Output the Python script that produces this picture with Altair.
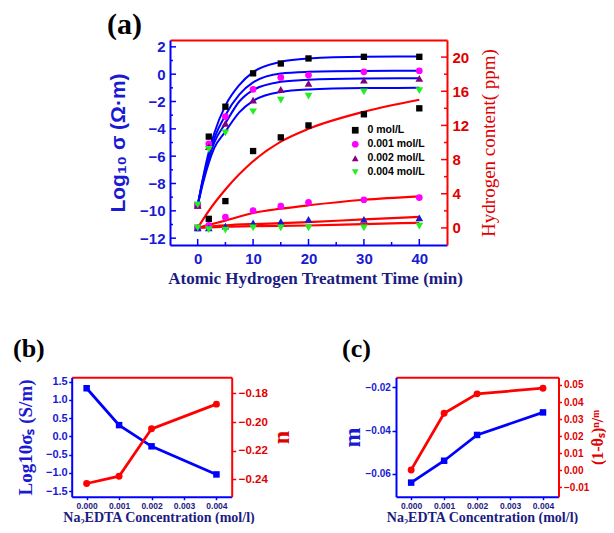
import altair as alt
import pandas as pd

# ---------------- data: panel (a) ----------------
conc_labels = ["0 mol/L", "0.001 mol/L", "0.002 mol/L", "0.004 mol/L"]
t_points = [0, 2, 5, 10, 15, 20, 30, 40]
# log10 sigma (left axis)
cond_0 = [-9.6, -4.57, -2.38, 0.06, 0.78, 1.15, 1.27, 1.27]
cond_1 = [-9.6, -5.1, -3.1, -1.11, -0.24, -0.07, 0.17, 0.25]
cond_2 = [-9.6, -5.3, -3.6, -1.9, -1.11, -0.68, -0.43, -0.31]
cond_4 = [-9.56, -5.5, -4.3, -2.75, -1.9, -1.6, -1.29, -1.2]
# hydrogen content (right axis)
h_0 = [0, 1.06, 3.14, 9.0, 10.6, 12.0, 13.3, 14.0]
h_1 = [0, 0.3, 1.26, 2.04, 2.55, 3.0, 3.3, 3.55]
h_2 = [0, 0.0, 0.2, 0.6, 0.75, 1.0, 1.0, 1.18]
h_4 = [0, -0.2, -0.25, 0.0, 0.0, 0.0, 0.0, 0.2]
# fitted curves
t_fit = [0, 1, 2, 3, 5, 7.5, 10, 15, 20, 30, 40]
fitc_0 = [-9.6, -7.5, -5.7, -4.3, -2.3, -0.8, 0.15, 0.9, 1.15, 1.28, 1.3]
fitc_1 = [-9.6, -7.6, -6.0, -4.7, -3.0, -1.5, -0.6, 0.05, 0.17, 0.24, 0.25]
fitc_2 = [-9.6, -7.7, -6.2, -5.0, -3.6, -2.0, -1.16, -0.56, -0.4, -0.32, -0.3]
fitc_4 = [-9.6, -7.9, -6.5, -5.4, -4.2, -2.8, -1.95, -1.3, -1.12, -1.02, -1.0]
t_hfit = [0, 2, 5, 10, 15, 20, 30, 40]
fith_0 = [0, 2.0, 4.5, 7.8, 10.1, 11.6, 13.6, 15.0]
fith_1 = [0, 0.35, 0.85, 1.75, 2.25, 2.65, 3.3, 3.7]
fith_2 = [0, 0.15, 0.3, 0.45, 0.55, 0.67, 1.0, 1.3]
fith_4 = [0, 0.06, 0.12, 0.2, 0.24, 0.28, 0.45, 0.6]

# ---------------- data: panels (b), (c) ----------------
edta = [0.000, 0.001, 0.002, 0.004]
b_log_sigma = [1.32, 0.31, -0.27, -1.04]
b_n = [-0.2428, -0.2377, -0.2047, -0.1875]
c_m = [-0.064, -0.0539, -0.042, -0.0316]
c_theta = [0.0002, 0.0334, 0.0448, 0.0481]

# tick values
a_x_ticks = [0, 10, 20, 30, 40]
a_x_minor = [5, 15, 25, 35]
a_left_ticks = [-12, -10, -8, -6, -4, -2, 0, 2]
a_left_minor = [-11, -9, -7, -5, -3, -1, 1]
a_right_ticks = [0, 4, 8, 12, 16, 20]
a_right_minor = [2, 6, 10, 14, 18]
conc_ticks = [0.000, 0.001, 0.002, 0.003, 0.004]
b_left_ticks = [-1.5, -1.0, -0.5, 0.0, 0.5, 1.0, 1.5]
b_right_ticks = [-0.24, -0.22, -0.20, -0.18]
c_left_ticks = [-0.06, -0.04, -0.02]
c_right_ticks = [-0.01, 0.0, 0.01, 0.02, 0.03, 0.04, 0.05]

# ---------------- styles / layout ----------------
BLUE = "#0000ff"
BLUE_TXT = "#1a1ad2"
RED = "#ff0000"
RED_TXT = "#e00000"
NAVY = "#1c1c80"
SANS = "Liberation Sans"
SERIF = "Liberation Serif"
point_colors = ["#000000", "#ff00ff", "#800080", "#22ee22"]
point_shapes = ["square", "circle", "triangle-up", "triangle-down"]
point_sizes = [40, 45, 60, 60]
h_colors = ["#000000", "#ff00ff", "#1a1acc", "#22ee22"]

W, H = 598, 516
# plot rectangles in view pixels: (x0, x1, y_top, y_bottom)
A_BOX = (162, 439, 32, 237)
B_BOX = (63.7, 223.7, 369.3, 488.7)
C_BOX = (388, 550.5, 369.3, 488.7)


def long_df(xs, series):
    rows = []
    for i, (name, vals) in enumerate(zip(conc_labels, series)):
        for x, v in zip(xs, vals):
            rows.append({"t": x, "v": v, "conc": name, "hc": h_colors[i],
                         "hs": point_shapes[i], "sz": point_sizes[i]})
    return pd.DataFrame(rows)


cond_df = long_df(t_points, [cond_0, cond_1, cond_2, cond_4])
h_df = long_df(t_points, [h_0, h_1, h_2, h_4])
fitc_df = long_df(t_fit, [fitc_0, fitc_1, fitc_2, fitc_4])
fith_df = long_df(t_hfit, [fith_0, fith_1, fith_2, fith_4])


def ax(**kw):
    base = dict(grid=False, labelFont=SANS, labelFontWeight="bold", labelOverlap=False,
                labelFlush=False, domainWidth=2)
    base.update(kw)
    return alt.Axis(**base)


def top_border(box):
    return ax(orient="top", offset=-box[2], labels=False, ticks=False, domainColor=RED, title="")


def xscale(domain, box):
    return alt.Scale(domain=domain, range=[box[0], box[1]], nice=False, zero=False)


def yscale(domain, box):
    return alt.Scale(domain=domain, range=[box[3], box[2]], nice=False, zero=False)


# ================= panel (a) =================
sxA = xscale([-5, 45], A_BOX)
syAL = yscale([-12.5, 2.5], A_BOX)
syAR = yscale([-2, 22], A_BOX)

xA_axis = ax(orient="bottom", offset=A_BOX[3] - H, values=a_x_ticks, ticks=False,
             labelPadding=6, labelFontSize=15, labelColor=BLUE_TXT, domainColor=BLUE,
             title="Atomic Hydrogen Treatment Time (min)", titleFont=SERIF,
             titleFontWeight="bold", titleFontSize=17, titleColor=NAVY, titlePadding=4,
             titleX=307)
yAL_axis = ax(orient="left", offset=-A_BOX[0], values=a_left_ticks, ticks=False,
              labelPadding=5, labelFontSize=15, labelColor=BLUE_TXT, domainColor=BLUE,
              title="Log₁₀ σ  (Ω·m)", titleFont=SANS, titleFontWeight="bold",
              titleFontSize=21, titleColor=BLUE_TXT, titlePadding=11)
yAR_axis = ax(orient="right", offset=A_BOX[1] - W, values=a_right_ticks, ticks=False,
              labelPadding=5, labelFontSize=15, labelColor=RED_TXT, domainColor=RED,
              title="Hydrogen content( ppm)", titleFont=SERIF, titleFontWeight="normal",
              titleFontSize=19, titleColor=RED_TXT, titlePadding=11,
              titleAngle=270, titleBaseline="top")
xA_top = top_border(A_BOX)

XA = alt.X("t:Q", scale=sxA, axis=xA_axis)
YAL = alt.Y("v:Q", scale=syAL, axis=yAL_axis)
XAT = alt.X("t:Q", scale=sxA, axis=xA_top)
YAR = alt.Y("v:Q", scale=syAR, axis=yAR_axis)

legend_a = alt.Legend(
    orient="none", legendX=342, legendY=117, title=None, padding=0,
    labelFont=SANS, labelFontWeight="bold", labelFontSize=10.5, labelColor="#000000",
    symbolSize=45, labelOffset=7, rowPadding=3,
)

blue_lines = alt.Chart(fitc_df).mark_line(
    color=BLUE, strokeWidth=2, interpolate="monotone"
).encode(x=XA, y=YAL, detail="conc:N")
cond_pts = alt.Chart(cond_df).mark_point(filled=True, opacity=1).encode(
    x=XA, y=YAL,
    color=alt.Color("conc:N", scale=alt.Scale(domain=conc_labels, range=point_colors), legend=legend_a),
    shape=alt.Shape("conc:N", scale=alt.Scale(domain=conc_labels, range=point_shapes), legend=legend_a),
    size=alt.Size("sz:Q", scale=None),
)

# inward ticks of panel (a)
lt1 = alt.Chart(pd.DataFrame({"v": a_left_ticks})).mark_rule(color=BLUE, strokeWidth=1.5).encode(
    y=YAL, x=alt.value(A_BOX[0]), x2=alt.value(A_BOX[0] + 6))
lt2 = alt.Chart(pd.DataFrame({"v": a_left_minor})).mark_rule(color=BLUE, strokeWidth=1.5).encode(
    y=YAL, x=alt.value(A_BOX[0]), x2=alt.value(A_BOX[0] + 3))
bt1 = alt.Chart(pd.DataFrame({"t": a_x_ticks})).mark_rule(color=BLUE, strokeWidth=1.5).encode(
    x=XA, y=alt.value(A_BOX[3]), y2=alt.value(A_BOX[3] - 6))
bt2 = alt.Chart(pd.DataFrame({"t": a_x_minor})).mark_rule(color=BLUE, strokeWidth=1.5).encode(
    x=XA, y=alt.value(A_BOX[3]), y2=alt.value(A_BOX[3] - 3))

red_lines = alt.Chart(fith_df).mark_line(
    color=RED, strokeWidth=2.2, interpolate="monotone"
).encode(x=XAT, y=YAR, detail="conc:N")
h_pts = alt.Chart(h_df).mark_point(filled=True, opacity=1).encode(
    x=XAT, y=YAR,
    color=alt.Color("hc:N", scale=None),
    shape=alt.Shape("hs:N", scale=None),
    size=alt.Size("sz:Q", scale=None),
)
rt1 = alt.Chart(pd.DataFrame({"v": a_right_ticks})).mark_rule(color=RED, strokeWidth=1.5).encode(
    y=YAR, x=alt.value(A_BOX[1] - 6), x2=alt.value(A_BOX[1]))
rt2 = alt.Chart(pd.DataFrame({"v": a_right_minor})).mark_rule(color=RED, strokeWidth=1.5).encode(
    y=YAR, x=alt.value(A_BOX[1] - 3), x2=alt.value(A_BOX[1]))

a_left = alt.layer(blue_lines, cond_pts, lt1, lt2, bt1, bt2)
a_right = alt.layer(red_lines, h_pts, rt1, rt2)

# ================= panels (b), (c) =================
dfB = pd.DataFrame({"c": edta, "s": b_log_sigma, "n": b_n})
dfC = pd.DataFrame({"c": edta, "m": c_m, "th": c_theta})
conc_dom = [-0.00046, 0.00447]


def x_bottom(box, title_x):
    return ax(orient="bottom", offset=box[3] - H, values=conc_ticks, format=".3f",
              tickSize=3, tickColor=BLUE, tickWidth=1.5, labelPadding=2,
              labelFontSize=8.5, labelColor=NAVY, domainColor=BLUE,
              title="Na₂EDTA Concentration (mol/l)", titleFont=SERIF,
              titleFontWeight="bold", titleFontSize=14, titleColor=NAVY,
              titlePadding=0, titleX=title_x)


def y_left_axis(box, values, fmt, title, tsize, tpad, lsize, lpad, tick):
    return ax(orient="left", offset=-box[0], values=values, format=fmt,
              tickSize=tick, tickColor=BLUE, tickWidth=1.5, labelPadding=lpad,
              labelFontSize=lsize, labelColor=BLUE_TXT, domainColor=BLUE,
              title=title, titleFont=SERIF, titleFontWeight="bold", titleFontSize=tsize,
              titleColor=BLUE_TXT, titlePadding=tpad)


def y_right_axis(box, values, title, tsize, tpad, lsize, lpad, tick):
    return ax(orient="right", offset=box[1] - W, values=values, format=".2f",
              tickSize=tick, tickColor=RED, tickWidth=1.5, labelPadding=lpad,
              labelFontSize=lsize, labelColor=RED_TXT, domainColor=RED,
              title=title, titleFont=SERIF, titleFontWeight="bold", titleFontSize=tsize,
              titleColor=RED_TXT, titlePadding=tpad, titleAngle=270, titleBaseline="top")


def blue_series(df, box, field, ydom, yaxis, xaxis):
    return alt.Chart(df).mark_line(
        color=BLUE, strokeWidth=2.8,
        point=alt.OverlayMarkDef(shape="square", size=42, filled=True, color=BLUE, opacity=1),
    ).encode(
        x=alt.X("c:Q", scale=xscale(conc_dom, box), axis=xaxis),
        y=alt.Y(field, scale=yscale(ydom, box), axis=yaxis),
    )


def red_series(df, box, field, ydom, yaxis):
    return alt.Chart(df).mark_line(
        color=RED, strokeWidth=2.8,
        point=alt.OverlayMarkDef(shape="circle", size=48, filled=True, color=RED, opacity=1),
    ).encode(
        x=alt.X("c:Q", scale=xscale(conc_dom, box), axis=top_border(box)),
        y=alt.Y(field, scale=yscale(ydom, box), axis=yaxis),
    )


b_left = blue_series(
    dfB, B_BOX, "s:Q", [-1.65, 1.62],
    y_left_axis(B_BOX, b_left_ticks, ".1f", "Log10σₛ (S/m)", 19, 10, 11, 1.5, 3),
    x_bottom(B_BOX, 150.5),
)
b_right = red_series(
    dfB, B_BOX, "n:Q", [-0.252, -0.1688],
    y_right_axis(B_BOX, b_right_ticks, "n", 24, 2, 11.5, 2.5, 4),
)
c_left = blue_series(
    dfC, C_BOX, "m:Q", [-0.0705, -0.0154],
    y_left_axis(C_BOX, c_left_ticks, ".2f", "m", 24, 0, 10, 1.7, 4),
    x_bottom(C_BOX, 474),
)
c_right = red_series(
    dfC, C_BOX, "th:Q", [-0.0155, 0.0545],
    y_right_axis(C_BOX, c_right_ticks, "(1-θₛ)ⁿ/ᵐ", 16, 1, 10, 2, 3),
)

# ================= panel letters =================
one = pd.DataFrame({"k": [0]})


def letter(text, x, y, size):
    return alt.Chart(one).mark_text(
        text=text, font=SERIF, fontWeight="bold", fontSize=size, color="#000000",
        align="left", baseline="top",
    ).encode(x=alt.value(x), y=alt.value(y))


chart = alt.layer(
    a_left, a_right, b_left, b_right, c_left, c_right,
    letter("(a)", 99, 2, 30), letter("(b)", 5, 328.4, 26), letter("(c)", 334, 328.4, 26),
).resolve_scale(
    x="independent", y="independent"
).properties(
    width=W, height=H, autosize=alt.AutoSizeParams(type="none"), padding=0
).configure_view(strokeWidth=0)

chart.save("out.html", embed_options={"renderer": "svg", "actions": False})
